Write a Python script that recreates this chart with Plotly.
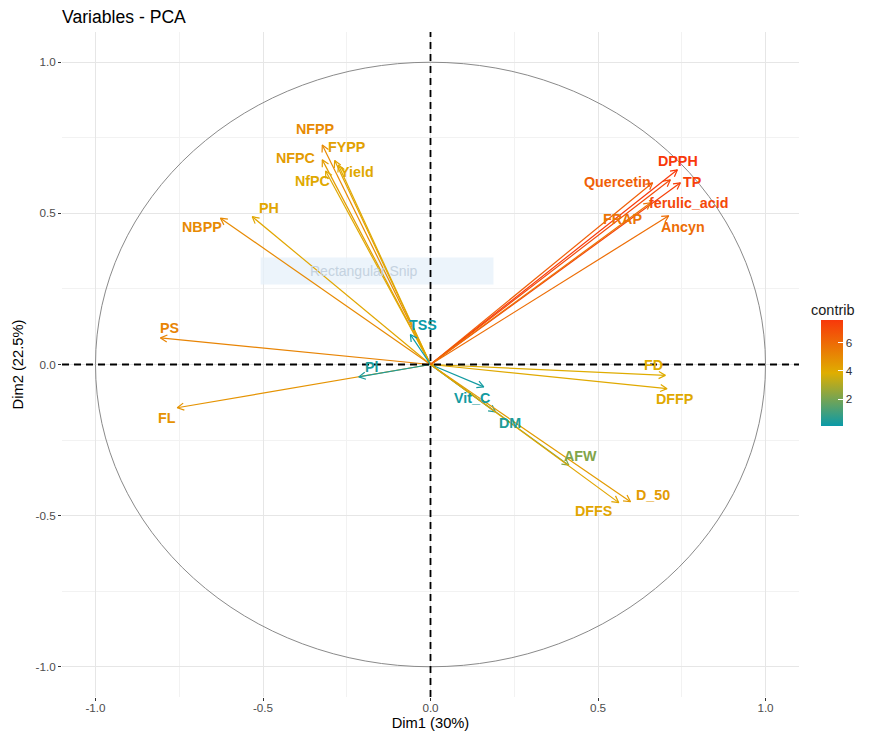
import math
import plotly.graph_objects as go
from plotly.colors import sample_colorscale

# Variable loadings on the first two principal components
variables = ["NFPP", "NFPC", "FYPP", "Yield", "NfPC", "PH", "NBPP", "PS", "FL",
             "Pl", "TSS", "Vit_C", "DM", "AFW", "D_50", "DFFS", "FD", "DFFP",
             "DPPH", "TP", "Quercetin", "ferulic_acid", "FRAP", "Ancyn"]
dim1 = [-0.323, -0.323, -0.286, -0.275, -0.313, -0.532, -0.627, -0.806, -0.756,
        -0.214, -0.060, 0.159, 0.194, 0.413, 0.597, 0.562, 0.701, 0.706,
        0.737, 0.746, 0.663, 0.716, 0.657, 0.711]
dim2 = [0.726, 0.677, 0.675, 0.660, 0.640, 0.489, 0.484, 0.088, -0.143,
        -0.041, 0.099, -0.074, -0.157, -0.333, -0.454, -0.457, -0.036, -0.080,
        0.644, 0.601, 0.601, 0.611, 0.535, 0.492]
# Contribution (%) of each variable to Dim1-2
contrib = [5.0, 4.45, 4.25, 4.05, 4.0, 4.1, 5.0, 5.2, 4.7,
           0.38, 0.1, 0.25, 0.49, 2.2, 4.45, 4.15, 3.9, 4.0,
           7.6, 7.3, 6.35, 7.05, 5.7, 5.9]

# Label offsets from the arrow tip, in pixels (right, down)
label_dx = [-7, -27, 12, 19, -13, 17, -18, 9, -10,
            13, 13, -12, 15, 12, 22, -25, -12, 8,
            1, 12, -35, 18, -28, 14]
label_dy = [-16, -2, -13, 7, 10, -9, 9, -10, 10,
            -10, -10, 11, 11, -9, -7, 8, -10, 10,
            -9, -1, -1, 23, 16, 11]

axis_ticks = [-1.0, -0.5, 0.0, 0.5, 1.0]
axis_ticktext = ["-1.0", "-0.5", "0.0", "0.5", "1.0"]
bar_ticks = [2, 4, 6]

W, H = 870, 736
ML, MR, MT, MB = 62, 71, 32, 39
XR = [-1.1, 1.1]
YR = [-1.1, 1.1]
PW, PH_ = W - ML - MR, H - MT - MB
px_x = PW / (XR[1] - XR[0])
px_y = PH_ / (YR[1] - YR[0])

colorscale = [[0.0, "#0A9AA8"], [0.5, "#DFAE00"], [1.0, "#F8380A"]]
cmin, cmax = min(contrib), max(contrib)

FONT = "Liberation Sans, Arial, Helvetica, sans-serif"

fig = go.Figure()

head_len = 7.5
head_ang = math.radians(28)

for name, x, y, c in zip(variables, dim1, dim2, contrib):
    col = sample_colorscale(colorscale, [(c - cmin) / (cmax - cmin)])[0]
    # open arrow head: two short strokes back from the tip, built in pixel space
    ang = math.atan2(y * px_y, x * px_x)
    hx, hy = [], []
    for s in (1, -1):
        a = ang + math.pi + s * head_ang
        hx.append(x + head_len * math.cos(a) / px_x)
        hy.append(y + head_len * math.sin(a) / px_y)
    fig.add_trace(go.Scatter(
        x=[0, x, None, hx[0], x, hx[1]],
        y=[0, y, None, hy[0], y, hy[1]],
        mode="lines", line=dict(color=col, width=1.2),
        hoverinfo="skip", showlegend=False))

annotations = []
for name, x, y, c, dx, dy in zip(variables, dim1, dim2, contrib, label_dx, label_dy):
    col = sample_colorscale(colorscale, [(c - cmin) / (cmax - cmin)])[0]
    annotations.append(dict(
        x=x, y=y, xref="x", yref="y", text="<b>%s</b>" % name, showarrow=False,
        xshift=dx, yshift=-dy, font=dict(family=FONT, size=14.3, color=col)))

# faint caption box over the upper-left area
annotations.append(dict(
    x=-0.2, y=0.31, xref="x", yref="y", text="Rectangular Snip", showarrow=False,
    font=dict(family=FONT, size=14, color="#C4D2E0")))

# legend title for the colour bar (paper coordinates of the plot area)
annotations.append(dict(
    x=(833 - ML) / PW, y=(H - MB - 310) / PH_, xref="paper", yref="paper",
    text="contrib", showarrow=False, xanchor="center", yanchor="middle",
    font=dict(family=FONT, size=14.5, color="#1A1A1A")))

# colour bar for contributions
fig.add_trace(go.Scatter(
    x=[0], y=[0], mode="markers", hoverinfo="skip", showlegend=False,
    marker=dict(size=1, opacity=0, color=[cmin], cmin=cmin, cmax=cmax,
                colorscale=colorscale, showscale=True,
                colorbar=dict(
                    thickness=22, len=106, lenmode="pixels",
                    xref="container", x=821 / W, xanchor="left",
                    yref="container", y=1 - 354 / H, yanchor="top",
                    tickvals=bar_ticks, ticks="inside", ticklen=5,
                    tickcolor="white", tickwidth=1,
                    tickfont=dict(family=FONT, size=11.7, color="#333333"),
                    outlinewidth=0, xpad=0, ypad=0))))

shapes = [
    # unit correlation circle
    dict(type="circle", xref="x", yref="y", x0=-1, y0=-1, x1=1, y1=1,
         line=dict(color="#8A8A8A", width=1), layer="between"),
    dict(type="rect", xref="x", yref="y", x0=-0.507, x1=0.188, y0=0.265, y1=0.354,
         line=dict(width=0), fillcolor="#E6F0FA", opacity=0.75, layer="between"),
    # dashed reference axes
    dict(type="line", xref="paper", yref="y", x0=0, x1=1, y0=0, y1=0,
         line=dict(color="black", width=1.8, dash="7px,5px"), layer="above"),
    dict(type="line", xref="x", yref="paper", x0=0, x1=0, y0=0, y1=1,
         line=dict(color="black", width=1.8, dash="7px,5px"), layer="above"),
]

axis_common = dict(
    tickvals=axis_ticks, ticktext=axis_ticktext,
    showgrid=True, gridcolor="#E6E6E6", gridwidth=1,
    minor=dict(dtick=0.25, tick0=0.25, showgrid=True, gridcolor="#F2F2F2", gridwidth=0.6),
    zeroline=False, showline=False, automargin=False,
    ticks="outside", ticklen=3, tickcolor="#333333", tickwidth=1,
    tickfont=dict(family=FONT, size=11.7, color="#4D4D4D"),
)

fig.update_layout(
    width=W, height=H,
    margin=dict(l=ML, r=MR, t=MT, b=MB),
    paper_bgcolor="white", plot_bgcolor="white",
    title=dict(text="Variables - PCA", x=ML / W, xanchor="left",
               y=1 - 17 / H, yanchor="middle", xref="container", yref="container",
               font=dict(family=FONT, size=17.6, color="#000000")),
    xaxis=dict(range=XR, ticklabelstandoff=-3,
               title=dict(text="Dim1 (30%)", standoff=4,
                          font=dict(family=FONT, size=14.7, color="#000000")),
               **axis_common),
    yaxis=dict(range=YR, title=dict(text="Dim2 (22.5%)", standoff=8,
                                    font=dict(family=FONT, size=14.7, color="#000000")),
               **axis_common),
    shapes=shapes,
    annotations=annotations,
)

fig.write_html("out.html")
